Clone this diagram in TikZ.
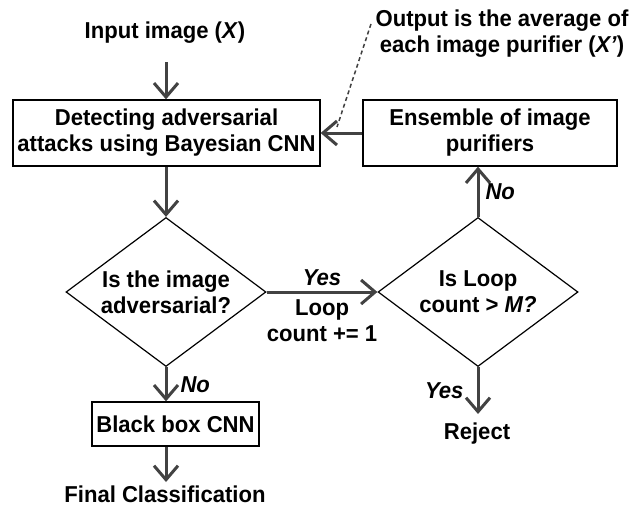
\documentclass[tikz,border=0pt]{standalone}
\usepackage{fontspec}
\setmainfont[FakeStretch=0.96]{Liberation Sans}
\usetikzlibrary{shapes.geometric,arrows.meta}

\tikzset{
  stepbox/.style={draw, line width=1.3pt, minimum height=66pt, inner sep=0pt, align=center},
  choice/.style={draw, diamond, line width=1.2pt, minimum width=200pt, minimum height=149pt,
    aspect=1.34, inner sep=0pt, align=center},
  flow/.style={line width=3pt, draw=black!74,
    -{Straight Barb[length=14pt,width=24pt,line width=3pt]}},
  lbl/.style={align=center, inner sep=1pt},
}

\begin{document}
\begin{tikzpicture}[x=1pt,y=-1pt,font=\fontsize{23}{26}\selectfont\bfseries]
        \useasboundingbox (0,0) rectangle (640,506);
        % boxes and decisions
        \node[lbl] (in) at (165,33) {Input image (\textit{X})};
        \node[stepbox,minimum width=307pt] (det) at (166.5,133) {Detecting adversarial\\attacks using Bayesian CNN};
        \node[stepbox,minimum width=254pt] (ens) at (490,133) {Ensemble of image\\purifiers};
        \node[lbl] (note) at (502,34) {Output is the average of\\each image purifier (\textit{X’})};
        \node[choice] (adv) at (166,292) {Is the image\\adversarial?};
        \node[choice] (loop) at (478,292) {Is Loop\\count > \textit{M?}};
        \node[stepbox,minimum width=167pt,minimum height=44pt] (bb) at (175.5,424) {Black box CNN};
        \node[lbl] (final) at (165,494) {Final Classification};
        \node[lbl] (rej) at (477,434) {Reject};
        % free ends
        \coordinate (inend) at (166,62);
        \coordinate (rejend) at (478,414);
        \coordinate (finend) at (166,482);
        \coordinate (callout) at (371,24);
        \coordinate (poke) at (337,127);
        % connectors
        \draw[flow] (inend) -- (inend |- det.north);
        \draw[flow] (det.south -| adv) -- (adv.north);
        \draw[flow] (ens.west) -- (det.east);
        \draw[flow] (adv.east) -- (loop.west)
          node[midway,above=4pt,lbl]{\textit{Yes}}
          node[midway,below=5pt,lbl]{Loop\\count += 1};
        \draw[flow] (loop.north) -- (loop.north |- ens.south)
          node[midway,right=5pt,lbl]{\textit{No}};
        \draw[flow] (adv.south) -- (adv.south |- bb.north)
          node[midway,right=12pt,lbl]{\textit{No}};
        \draw[flow] (loop.south) -- (rejend)
          node[midway,left=12pt,lbl]{\textit{Yes}};
        \draw[flow] (bb.south -| adv) -- (finend);
        \draw[line width=1.5pt,black!75,dash pattern=on 4pt off 3pt] (callout) -- (poke);
\end{tikzpicture}
\end{document}
